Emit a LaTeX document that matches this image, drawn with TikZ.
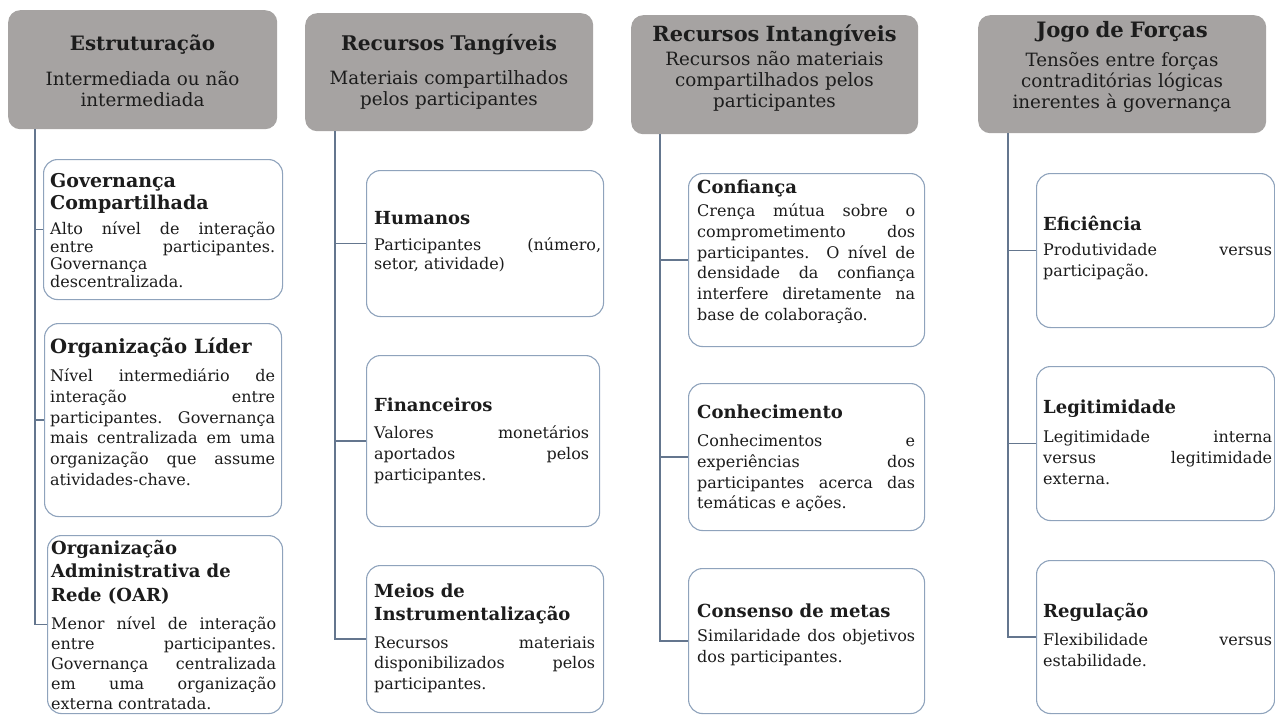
\documentclass[tikz,border=0pt]{standalone}
\usepackage{fontspec}
\setmainfont{DejaVu Serif}
\usepackage{xcolor}
\usepackage{tikz}
\usetikzlibrary{positioning,calc}

\definecolor{headgray}{RGB}{166,163,162}
\definecolor{boxline}{RGB}{143,163,188}
\definecolor{linkline}{RGB}{100,118,142}
\definecolor{inkblack}{RGB}{28,28,28}

% box heading, optional gap before the body text
\newcommand{\boxhead}[2][3pt]{{\raggedright\fontsize{18}{23.5}\selectfont\bfseries #2\par}\vspace{#1}}
\newcommand{\headtitle}[3][13pt]{{\fontsize{#2}{24}\selectfont\bfseries #3\par}\vspace{#1}}

\tikzset{
  header/.style={fill=headgray, rounded corners=12pt, anchor=north west},
  headtext/.style={anchor=base, align=center, inner sep=0pt, text=inkblack,
    text width=280pt, font=\fontsize{18.3}{21.2}\selectfont},
  leaf/.style={draw=boxline, line width=1.1pt, fill=white, rounded corners=14pt,
    anchor=north west, minimum width=236pt},
  leaftext/.style={anchor=base west, align=justify, inner sep=0pt, text=inkblack,
    text width=218pt, font=\fontsize{16}{20.7}\selectfont},
  link/.style={draw=linkline, line width=1.2pt},
}

\begin{document}
\begin{tikzpicture}[x=1pt, y=-1pt]
  \useasboundingbox (0,0) rectangle (1275,715);
  \clip (0,0) rectangle (1275,715);

  % Column 1: Estruturacao
  \node[header, minimum width=269pt, minimum height=119pt] (h1) at (8,10) {};
  \node[headtext] (h1txt) at (142.5,50)
    {\headtitle[14pt]{19.8}{Estruturação}Intermediada ou não\\intermediada};

  \node[leaf, minimum width=239pt, minimum height=140pt] (gov) at (43,159) {};
  \node[leaftext, text width=225pt, font=\fontsize{16}{17.4}\selectfont] (govtxt) at (50,187)
    {{\raggedright\fontsize{19}{22.5}\selectfont\bfseries Governança\\Compartilhada\par}\vspace{8pt}%
     Alto nível de interação\linebreak entre participantes.\linebreak Governança\linebreak descentralizada.};

  \node[leaf, minimum width=237pt, minimum height=193pt] (lider) at (44,323) {};
  \node[leaftext, text width=225pt] (lidertxt) at (50,353)
    {{\raggedright\fontsize{19.6}{24}\selectfont\bfseries Organização Líder\par}\vspace{8pt}%
     Nível intermediário de\linebreak interação entre\linebreak participantes. Governança\linebreak mais centralizada em uma\linebreak organização que assume\linebreak atividades-chave.};

  \node[leaf, minimum width=235pt, minimum height=178pt] (oar) at (47,535) {};
  \node[leaftext, text width=225pt, font=\fontsize{16}{19.8}\selectfont] (oartxt) at (51,554)
    {\boxhead[9pt]{Organização\\Administrativa de\\Rede (OAR)}Menor nível de interação\linebreak entre participantes.\linebreak Governança centralizada\linebreak em uma organização\linebreak externa contratada.};

  \coordinate (t1) at ($(h1.south west)+(27,0)$);
  \draw[link] (t1) |- (gov.west);
  \draw[link] (t1) |- (lider.west);
  \draw[link] (t1) |- (oar.west);

  % Column 2: Recursos Tangiveis
  \node[header, minimum width=288pt, minimum height=118pt] (h2) at (305,13) {};
  \node[headtext] (h2txt) at (449,50)
    {\headtitle[13pt]{20.2}{Recursos Tangíveis}Materiais compartilhados\\pelos participantes};

  \node[leaf, minimum width=237pt, minimum height=146pt] (hum) at (366,170) {};
  \node[leaftext, text width=227pt, font=\fontsize{16}{19}\selectfont] (humtxt) at (374,224)
    {\boxhead[7pt]{Humanos}Participantes (número,\linebreak setor, atividade)};

  \node[leaf, minimum width=233pt, minimum height=171pt] (fin) at (366,355) {};
  \node[leaftext, text width=215pt] (fintxt) at (374,411)
    {\boxhead[7pt]{Financeiros}Valores monetários\linebreak aportados pelos\linebreak participantes.};

  \node[leaf, minimum width=237pt, minimum height=147pt] (meios) at (366,565) {};
  \node[leaftext, text width=221pt] (meiostxt) at (374,597)
    {\boxhead[7pt]{Meios de\\Instrumentalização}Recursos materiais\linebreak disponibilizados pelos\linebreak participantes.};

  \coordinate (t2) at ($(h2.south west)+(30,0)$);
  \draw[link] (t2) |- (hum.west);
  \draw[link] (t2) |- (fin.west);
  \draw[link] (t2) |- (meios.west);

  % Column 3: Recursos Intangiveis
  \node[header, minimum width=287pt, minimum height=119pt] (h3) at (631,15) {};
  \node[headtext] (h3txt) at (774.5,41)
    {\headtitle[3pt]{20.9}{Recursos Intangíveis}Recursos não materiais\\compartilhados pelos\\participantes};

  \node[leaf, minimum height=173pt] (conf) at (688,173) {};
  \node[leaftext] (conftxt) at (697,193)
    {\boxhead[3pt]{Confiança}Crença mútua sobre o\linebreak comprometimento dos\linebreak participantes. O nível de\linebreak densidade da confiança\linebreak interfere diretamente na\linebreak base de colaboração.};

  \node[leaf, minimum height=147pt] (conh) at (688,383) {};
  \node[leaftext] (conhtxt) at (697,418)
    {\boxhead[8pt]{Conhecimento}Conhecimentos e\linebreak experiências dos\linebreak participantes acerca das\linebreak temáticas e ações.};

  \node[leaf, minimum height=145pt] (cons) at (688,568) {};
  \node[leaftext] (constxt) at (697,617)
    {\boxhead[4pt]{Consenso de metas}Similaridade dos objetivos\linebreak dos participantes.};

  \coordinate (t3) at ($(h3.south west)+(29,0)$);
  \draw[link] (t3) |- (conf.west);
  \draw[link] (t3) |- (conh.west);
  \draw[link] (t3) |- (cons.west);

  % Column 4: Jogo de Forcas
  \node[header, minimum width=288pt, minimum height=118pt] (h4) at (978,15) {};
  \node[headtext] (h4txt) at (1122,37)
    {\headtitle[8pt]{21.2}{Jogo de Forças}Tensões entre forças\\contraditórias lógicas\\inerentes à governança};

  \node[leaf, minimum width=238pt, minimum height=154pt] (efic) at (1036,173) {};
  \node[leaftext, text width=229pt] (effictxt) at (1043,230)
    {\boxhead[5pt]{Eficiência}Produtividade versus\linebreak participação.};

  \node[leaf, minimum width=238pt, minimum height=154pt] (legit) at (1036,366) {};
  \node[leaftext, text width=229pt] (legittxt) at (1043,413)
    {\boxhead[9pt]{Legitimidade}Legitimidade interna\linebreak versus legitimidade\linebreak externa.};

  \node[leaf, minimum width=238pt, minimum height=153pt] (reg) at (1036,560) {};
  \node[leaftext, text width=229pt] (regtxt) at (1043,617)
    {\boxhead[8pt]{Regulação}Flexibilidade versus\linebreak estabilidade.};

  \coordinate (t4) at ($(h4.south west)+(30,0)$);
  \draw[link] (t4) |- (efic.west);
  \draw[link] (t4) |- (legit.west);
  \draw[link] (t4) |- (reg.west);

\end{tikzpicture}
\end{document}
